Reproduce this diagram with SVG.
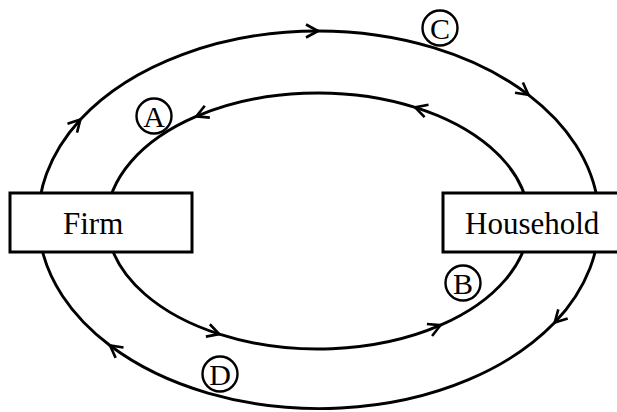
<svg xmlns="http://www.w3.org/2000/svg" width="617" height="412" viewBox="0 0 617 412">
<style>
.flow{fill:none;stroke:#000;stroke-width:2.9;marker-mid:url(#arr);marker-end:url(#arr)}
.box{fill:#fff;stroke:#000;stroke-width:3}
.lbl{font-family:"Liberation Serif","Times New Roman",serif;font-size:31px;fill:#000}
.tag circle{fill:none;stroke:#000;stroke-width:2.4}
.tag text{font-family:"Liberation Serif","Times New Roman",serif;font-size:30px;fill:#000;text-anchor:middle}
</style>
<defs>
<marker id="arr" viewBox="-14 -8 16 16" refX="0" refY="0" markerWidth="16" markerHeight="16" markerUnits="userSpaceOnUse" orient="auto">
<path d="M-12,-6.5 L0,0 L-12,6.5" fill="none" stroke="#000" stroke-width="2.6" stroke-linejoin="miter"/>
</marker>
</defs>
<rect width="617" height="412" fill="#fff"/>
<g id="connectors">
<path id="outer" class="flow" d="M110,345.5 A281,189.5 0 0 1 80.4,119.4 A281,189.5 0 0 1 318,31 A281,189.5 0 0 1 528.5,94.9 A281,189.5 0 0 1 554.7,322.6 A281,189.5 0 0 1 110,345.5"/>
<path id="inner" class="flow" d="M415.1,107.4 A211,128 0 0 0 196.3,116.4 A211,128 0 0 0 219.3,334.1 A211,128 0 0 0 440.5,325.2 A211,128 0 0 0 415.1,107.4"/>
</g>
<g id="firm">
<rect class="box" x="10" y="193" width="182" height="59"/>
<text class="lbl" x="63" y="234">Firm</text>
</g>
<g id="household">
<rect class="box" x="443" y="193" width="180" height="59"/>
<text class="lbl" x="465" y="234">Household</text>
</g>
<g id="label-A" class="tag"><circle cx="154" cy="116" r="17.5"/><text x="154" y="126.5">A</text></g>
<g id="label-B" class="tag"><circle cx="463" cy="283" r="17.5"/><text x="463" y="293.5">B</text></g>
<g id="label-C" class="tag"><circle cx="440" cy="28" r="17.5"/><text x="440" y="38.5">C</text></g>
<g id="label-D" class="tag"><circle cx="220" cy="374" r="17.5"/><text x="220" y="384.5">D</text></g>
</svg>
